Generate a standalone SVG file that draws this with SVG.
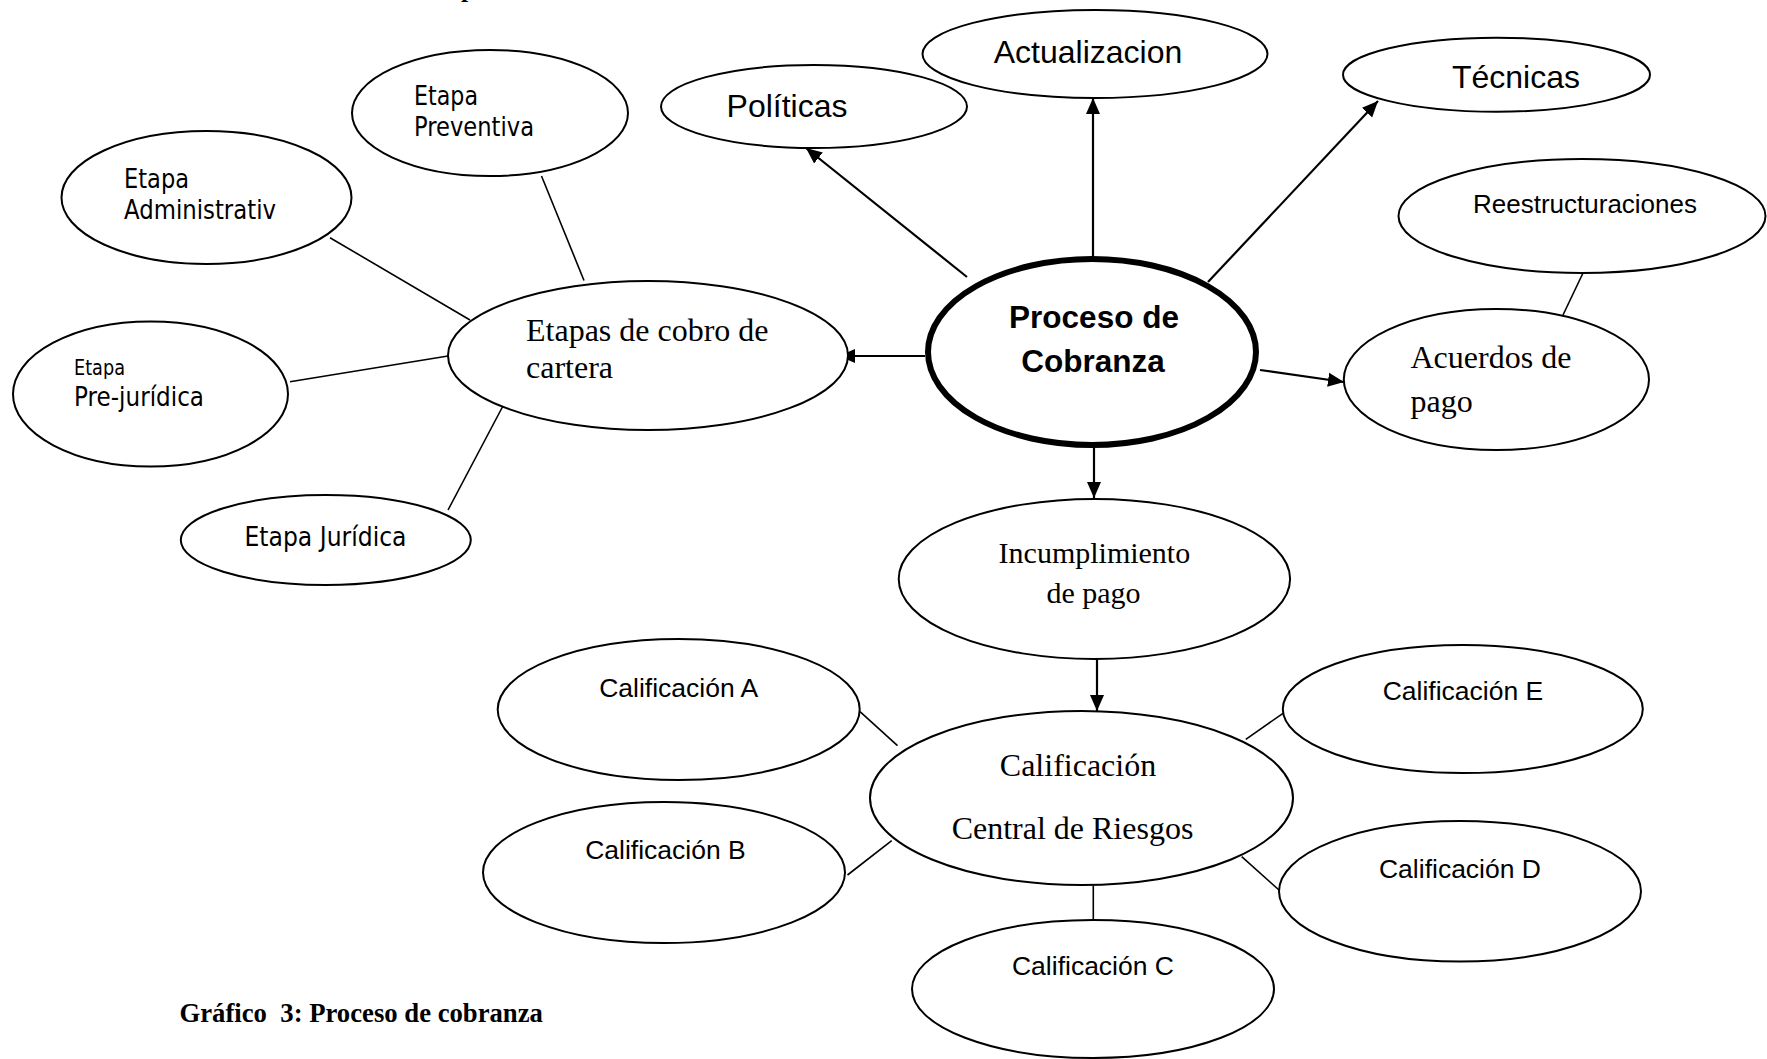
<svg xmlns="http://www.w3.org/2000/svg" width="1767" height="1059" viewBox="0 0 1767 1059">
  <defs>
    <marker id="arrow" viewBox="0 0 16 16" refX="16" refY="8" markerWidth="16" markerHeight="16" markerUnits="userSpaceOnUse" orient="auto">
      <path d="M0,1 L16,8 L0,15 z" fill="#000"/>
    </marker>
    <style>
      .node { fill: #fff; stroke: #000; stroke-width: 2; }
      .main { fill: #fff; stroke: #000; stroke-width: 6; }
      .link { stroke: #000; stroke-width: 1.6; fill: none; }
      .arr { stroke: #000; stroke-width: 2.2; fill: none; marker-end: url(#arrow); }
      .sans { font-family: "Liberation Sans", Arial, sans-serif; fill: #000; }
      .serif { font-family: "Liberation Serif", "Times New Roman", serif; fill: #000; }
      .taho { font-family: "DejaVu Sans", Verdana, sans-serif; fill: #000; }
      .mid { text-anchor: middle; }
    </style>
  </defs>

  <rect width="1767" height="1059" fill="#fff"/>

  <!-- descender of the heading line above the frame -->
  <text class="serif" x="461" y="-3" font-size="26" font-weight="bold">p</text>

  <!-- connectors -->
  <g id="connectors">
    <line class="arr" x1="967" y1="277" x2="806" y2="148"/>
    <line class="arr" x1="1093" y1="257" x2="1093" y2="98"/>
    <line class="arr" x1="1208" y1="282" x2="1378" y2="101"/>
    <line class="arr" x1="925" y1="356" x2="839" y2="356"/>
    <line class="arr" x1="1260" y1="370" x2="1344" y2="382"/>
    <line class="arr" x1="1094" y1="448" x2="1094" y2="498"/>
    <line class="arr" x1="1097" y1="657" x2="1097" y2="711"/>

    <line class="link" x1="1583" y1="273" x2="1563" y2="315"/>
    <line class="link" x1="541.5" y1="176" x2="584" y2="280.5"/>
    <line class="link" x1="330" y1="237.7" x2="470" y2="320"/>
    <line class="link" x1="290" y1="381.7" x2="448" y2="356"/>
    <line class="link" x1="448" y1="510" x2="504" y2="404"/>

    <line class="link" x1="860" y1="711.7" x2="897.5" y2="745.7"/>
    <line class="link" x1="847.5" y1="875" x2="891.7" y2="840.7"/>
    <line class="link" x1="1093.3" y1="885.7" x2="1093.3" y2="922.7"/>
    <line class="link" x1="1241.7" y1="856.7" x2="1279" y2="890"/>
    <line class="link" x1="1245.8" y1="739.3" x2="1283" y2="713.3"/>
  </g>

  <g id="politicas">
    <ellipse class="node" cx="814" cy="106.5" rx="153" ry="41.5"/>
    <text class="sans mid" x="787" y="117" font-size="32">Políticas</text>
  </g>

  <g id="actualizacion">
    <ellipse class="node" cx="1095" cy="54" rx="172.5" ry="44"/>
    <text class="sans mid" x="1088" y="63" font-size="32">Actualizacion</text>
  </g>

  <g id="tecnicas">
    <ellipse class="node" cx="1496.5" cy="74.7" rx="153.5" ry="37"/>
    <text class="sans mid" x="1516" y="88" font-size="32">Técnicas</text>
  </g>

  <g id="reestructuraciones">
    <ellipse class="node" cx="1582" cy="216" rx="183.5" ry="57"/>
    <text class="sans mid" x="1585" y="213" font-size="26">Reestructuraciones</text>
  </g>

  <g id="etapa-preventiva">
    <ellipse class="node" cx="490" cy="113" rx="138" ry="63"/>
    <text class="taho" x="414" y="105" font-size="27" textLength="64" lengthAdjust="spacingAndGlyphs">Etapa</text>
    <text class="taho" x="414" y="136" font-size="27" textLength="120" lengthAdjust="spacingAndGlyphs">Preventiva</text>
  </g>

  <g id="etapa-administrativa">
    <ellipse class="node" cx="206.5" cy="197.5" rx="145" ry="66.5"/>
    <text class="taho" x="124" y="187.7" font-size="27" textLength="65" lengthAdjust="spacingAndGlyphs">Etapa</text>
    <text class="taho" x="124" y="219.3" font-size="27" textLength="152" lengthAdjust="spacingAndGlyphs">Administrativ</text>
  </g>

  <g id="etapa-prejuridica">
    <ellipse class="node" cx="150.5" cy="394" rx="137.5" ry="72.5"/>
    <text class="taho" x="74" y="375" font-size="21" textLength="51" lengthAdjust="spacingAndGlyphs">Etapa</text>
    <text class="taho" x="74" y="406" font-size="27" textLength="130" lengthAdjust="spacingAndGlyphs">Pre-jurídica</text>
  </g>

  <g id="etapa-juridica">
    <ellipse class="node" cx="325.8" cy="540" rx="145" ry="45"/>
    <text class="taho" x="244.5" y="545.7" font-size="27" textLength="162" lengthAdjust="spacingAndGlyphs">Etapa Jurídica</text>
  </g>

  <g id="etapas-cobro">
    <ellipse class="node" cx="648" cy="355.5" rx="200" ry="74.5"/>
    <text class="serif" x="526" y="341" font-size="32">Etapas de cobro de</text>
    <text class="serif" x="526" y="377.5" font-size="32">cartera</text>
  </g>

  <g id="proceso-cobranza">
    <ellipse class="main" cx="1092" cy="352" rx="164" ry="93"/>
    <text class="sans mid" x="1094" y="328" font-size="31.5" font-weight="bold">Proceso de</text>
    <text class="sans mid" x="1093" y="371.7" font-size="31.5" font-weight="bold">Cobranza</text>
  </g>

  <g id="acuerdos-pago">
    <ellipse class="node" cx="1496.4" cy="379.5" rx="152.6" ry="70.5"/>
    <text class="serif" x="1410.5" y="368" font-size="32">Acuerdos de</text>
    <text class="serif" x="1410.5" y="411.7" font-size="32">pago</text>
  </g>

  <g id="incumplimiento">
    <ellipse class="node" cx="1094.4" cy="579" rx="195.7" ry="80"/>
    <text class="serif mid" x="1094.4" y="562.7" font-size="30">Incumplimiento</text>
    <text class="serif mid" x="1093.5" y="602.7" font-size="30">de pago</text>
  </g>

  <g id="central-riesgos">
    <ellipse class="node" cx="1081.5" cy="798" rx="211.5" ry="87"/>
    <text class="serif mid" x="1078" y="776" font-size="32">Calificación</text>
    <text class="serif mid" x="1072.5" y="839" font-size="32">Central de Riesgos</text>
  </g>

  <g id="calificacion-a">
    <ellipse class="node" cx="678.7" cy="709.5" rx="181" ry="70.5"/>
    <text class="sans mid" x="678.7" y="696.7" font-size="26.5">Calificación A</text>
  </g>

  <g id="calificacion-b">
    <ellipse class="node" cx="664" cy="872.5" rx="181" ry="70.5"/>
    <text class="sans mid" x="665.4" y="859" font-size="26.5">Calificación B</text>
  </g>

  <g id="calificacion-c">
    <ellipse class="node" cx="1093" cy="989" rx="181" ry="69"/>
    <text class="sans mid" x="1093" y="975" font-size="26.5">Calificación C</text>
  </g>

  <g id="calificacion-d">
    <ellipse class="node" cx="1460" cy="891.3" rx="181" ry="70.3"/>
    <text class="sans mid" x="1460" y="877.7" font-size="26.5">Calificación D</text>
  </g>

  <g id="calificacion-e">
    <ellipse class="node" cx="1462.8" cy="709" rx="180" ry="64"/>
    <text class="sans mid" x="1463" y="700" font-size="26.5">Calificación E</text>
  </g>

  <!-- caption -->
  <text class="serif" x="179.5" y="1021.7" font-size="26.7" font-weight="bold" xml:space="preserve">Gráfico  3: Proceso de cobranza</text>
</svg>
